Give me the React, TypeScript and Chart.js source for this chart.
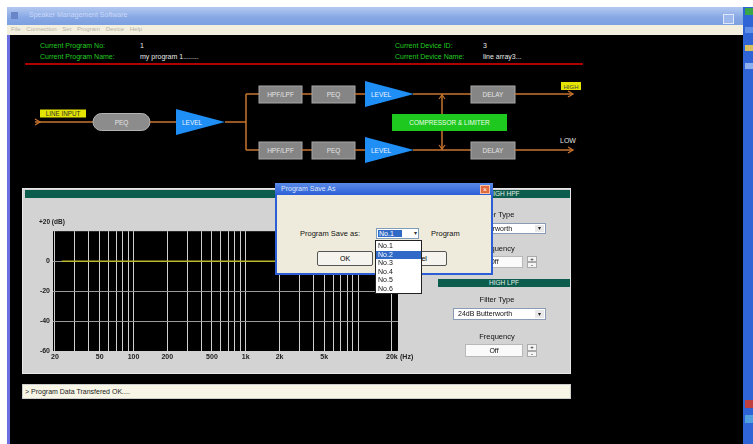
import React, { useEffect, useRef } from "react";
import { Chart, registerables } from "chart.js";
Chart.register(...registerables);

// ---- chart data ----
const FREQ_GRID = [20, 30, 40, 50, 60, 70, 80, 90, 100, 200, 300, 400, 500, 600, 700, 800, 900, 1000, 2000, 3000, 4000, 5000, 6000, 7000, 8000, 9000, 10000, 20000];
const FREQ_LABELS: Record<number, string> = { 20: "20", 50: "50", 100: "100", 200: "200", 500: "500", 1000: "1k", 2000: "2k", 5000: "5k", 20000: "20k" };
const DB_TICKS = [-60, -40, -20, 0, 20];
const DB_LABELS: Record<number, string> = { [-60]: "-60", [-40]: "-40", [-20]: "-20", 0: "0", 20: "" };
const RESPONSE_FREQ = [23, 100, 1000, 10000, 22700];
const RESPONSE_DB = [0, 0, 0, 0, 0];
const PROGRAM_SLOTS = ["No.1", "No.2", "No.3", "No.4", "No.5", "No.6"];

const FONT = "Arial, 'Liberation Sans', sans-serif";

function Txt(props: { x: number; y: number; c?: string; s?: number; b?: boolean; children: any; w?: number; center?: boolean }) {
  const { x, y, c = "#111", s = 7, b = false, w, center } = props;
  return (
    <div style={{ position: "absolute", left: x, top: y - s * 0.6, fontSize: s, lineHeight: `${s * 1.2}px`, color: c, fontWeight: b ? "bold" : "normal", whiteSpace: "nowrap", width: w, textAlign: center ? "center" : "left", fontFamily: FONT }}>
      {props.children}
    </div>
  );
}

function Box(props: { x: number; y: number; w: number; h: number; style?: any; children?: any }) {
  return <div style={{ position: "absolute", left: props.x, top: props.y, width: props.w, height: props.h, boxSizing: "border-box", ...props.style }}>{props.children}</div>;
}

function FreqChart() {
  const ref = useRef<HTMLCanvasElement | null>(null);
  useEffect(() => {
    if (!ref.current) return;
    const bg = {
      id: "plotbg",
      beforeDraw(chart: any) {
        const { ctx, chartArea: a } = chart;
        ctx.save();
        ctx.fillStyle = "#000";
        ctx.fillRect(a.left, a.top, a.right - a.left, a.bottom - a.top);
        ctx.restore();
      },
    };
    const chart = new Chart(ref.current, {
      type: "line",
      data: {
        datasets: [
          {
            data: RESPONSE_FREQ.map((f, i) => ({ x: f, y: RESPONSE_DB[i] })),
            borderColor: "#b9b92a",
            borderWidth: 1.5,
            pointRadius: 0,
            tension: 0,
          },
        ],
      },
      options: {
        animation: false,
        responsive: false,
        maintainAspectRatio: false,
        layout: { padding: { top: 4, right: 22, left: 0, bottom: 0 } },
        plugins: { legend: { display: false }, tooltip: { enabled: false } },
        scales: {
          x: {
            type: "logarithmic",
            min: 19.2,
            max: 22700,
            afterBuildTicks: (s: any) => {
              s.ticks = FREQ_GRID.map((v) => ({ value: v }));
            },
            afterFit: (s: any) => {
              s.height = 17;
            },
            ticks: {
              autoSkip: false,
              maxRotation: 0,
              minRotation: 0,
              padding: 2,
              color: "#222",
              font: { size: 7, weight: "bold", family: FONT },
              callback: (v: any) => FREQ_LABELS[Number(v)] ?? "",
            },
            grid: { color: "#cfcfcf", lineWidth: 1, drawTicks: false },
            border: { display: false },
          },
          y: {
            min: -60,
            max: 20,
            afterBuildTicks: (s: any) => {
              s.ticks = DB_TICKS.map((v) => ({ value: v }));
            },
            afterFit: (s: any) => {
              s.width = 23;
            },
            ticks: {
              padding: 3,
              color: "#222",
              font: { size: 7, weight: "bold", family: FONT },
              callback: (v: any) => DB_LABELS[Number(v)] ?? "",
            },
            grid: {
              color: (ctx: any) => (ctx.tick && (ctx.tick.value === 20 || ctx.tick.value === -60) ? "rgba(0,0,0,0)" : "#9a9a9a"),
              lineWidth: 1,
              drawTicks: false,
            },
            border: { display: false },
          },
        },
      } as any,
      plugins: [bg],
    });
    return () => chart.destroy();
  }, []);
  return <canvas ref={ref} width={390} height={144} style={{ position: "absolute", left: 30, top: 224, width: 390, height: 144 }} />;
}

const ORANGE = "#c8742e";

function Diagram() {
  const line = (x1: number, y1: number, x2: number, y2: number) => <line x1={x1} y1={y1} x2={x2} y2={y2} stroke={ORANGE} strokeWidth={1.5} />;
  const arrowR = (x: number, y: number) => <polyline points={`${x - 5},${y - 3} ${x},${y} ${x - 5},${y + 3}`} fill="none" stroke={ORANGE} strokeWidth={1.3} />;
  const box = (x: number, y: number, w: number, h: number, label: string) => (
    <g>
      <rect x={x} y={y} width={w} height={h} fill="#858585" stroke="#a8a8a8" strokeWidth={1} />
      <text x={x + w / 2} y={y + h / 2 + 2.3} textAnchor="middle" fontSize={6.5} fill="#e4e4e4" fontFamily={FONT}>{label}</text>
    </g>
  );
  const tri = (x: number, yc: number, label: string) => (
    <g>
      <polygon points={`${x},${yc - 13} ${x + 49},${yc} ${x},${yc + 13}`} fill="#1f8ef5" />
      <text x={x + 6} y={yc + 2.5} fontSize={6.5} fill="#e8f2ff" fontFamily={FONT}>{label}</text>
    </g>
  );
  return (
    <svg width={753} height={444} style={{ position: "absolute", left: 0, top: 0 }}>
      {/* input */}
      {line(35, 122, 93, 122)}
      {arrowR(40, 122)}
      <rect x={40} y={109.5} width={46} height={8} fill="#e4e400" />
      <text x={63} y={116} textAnchor="middle" fontSize={6.3} fill="#333" fontFamily={FONT}>LINE INPUT</text>
      <rect x={93} y={113.5} width={57} height={17} rx={8.5} fill="#8c8c8c" stroke="#b4b4b4" />
      <text x={121.5} y={124.5} textAnchor="middle" fontSize={6.5} fill="#e4e4e4" fontFamily={FONT}>PEQ</text>
      {line(150, 122, 176, 122)}
      {tri(176, 122, "LEVEL")}
      {line(225, 122, 246, 122)}
      {line(246, 94, 246, 150)}
      {/* top branch */}
      {line(246, 94, 259, 94)}
      {box(259, 86, 43, 17, "HPF/LPF")}
      {line(302, 94, 312, 94)}
      {box(312, 86, 43, 17, "PEQ")}
      {line(355, 94, 365, 94)}
      {tri(365, 94, "LEVEL")}
      {line(413, 94, 471, 94)}
      {box(471, 86, 44, 17, "DELAY")}
      {line(515, 94, 573, 94)}
      {arrowR(573, 94)}
      <rect x={561} y={82} width={20} height={8} fill="#e4e400" />
      <text x={571} y={88.5} textAnchor="middle" fontSize={6} fill="#444" fontFamily={FONT}>HIGH</text>
      {/* bottom branch */}
      {line(246, 150, 259, 150)}
      {box(259, 142, 43, 17, "HPF/LPF")}
      {line(302, 150, 312, 150)}
      {box(312, 142, 43, 17, "PEQ")}
      {line(355, 150, 365, 150)}
      {tri(365, 150, "LEVEL")}
      {line(413, 150, 471, 150)}
      {box(471, 142, 44, 17, "DELAY")}
      {line(515, 150, 573, 150)}
      {arrowR(573, 150)}
      <text x={560} y={143} fontSize={7} fill="#e0e0e0" fontFamily={FONT}>LOW</text>
      {/* compressor link */}
      {line(442, 94, 442, 150)}
      <polyline points={`439,99 442,95 445,99`} fill="none" stroke={ORANGE} strokeWidth={1.2} />
      <polyline points={`439,145 442,149 445,145`} fill="none" stroke={ORANGE} strokeWidth={1.2} />
      <rect x={392} y={114} width={115} height={17} fill="#1ec81e" />
      <text x={449.5} y={125} textAnchor="middle" fontSize={6.5} fill="#e8ffe8" fontFamily={FONT}>COMPRESSOR &amp; LIMITER</text>
    </svg>
  );
}

function Combo(props: { x: number; y: number; w: number; h: number; text: string }) {
  const { x, y, w, h, text } = props;
  return (
    <Box x={x} y={y} w={w} h={h} style={{ background: "#fff", border: "1px solid #8a9bb5" }}>
      <div style={{ position: "absolute", left: 4, top: 0, fontSize: 7, lineHeight: `${h - 2}px`, fontFamily: FONT, color: "#111" }}>{text}</div>
      <div style={{ position: "absolute", right: 1, top: 1, width: 9, height: h - 4, background: "#e8e8e8", fontSize: 6, lineHeight: `${h - 4}px`, textAlign: "center", color: "#222" }}>▾</div>
    </Box>
  );
}

function Spin(props: { x: number; y: number; w: number; h: number; text: string; bx: number }) {
  const { x, y, w, h, text, bx } = props;
  return (
    <>
      <Box x={x} y={y} w={w} h={h} style={{ background: "#fafafa", border: "1px solid #b8b8b8" }}>
        <div style={{ textAlign: "center", fontSize: 7, lineHeight: `${h - 2}px`, fontFamily: FONT, color: "#111" }}>{text}</div>
      </Box>
      <Box x={bx} y={y} w={10} h={h / 2} style={{ background: "#f4f4f4", border: "1px solid #aaa", fontSize: 6, lineHeight: `${h / 2 - 2}px`, textAlign: "center" }}>+</Box>
      <Box x={bx} y={y + h / 2} w={10} h={h / 2} style={{ background: "#f4f4f4", border: "1px solid #aaa", fontSize: 6, lineHeight: `${h / 2 - 2}px`, textAlign: "center" }}>-</Box>
    </>
  );
}

export default function App() {
  return (
    <div style={{ position: "fixed", left: 0, top: 0, width: 753, height: 444, background: "#fff", overflow: "hidden", fontFamily: FONT }}>
      {/* window chrome */}
      <Box x={7} y={7} w={736} h={18} style={{ background: "linear-gradient(#b4c9f0, #86a7e4 60%, #7c9fe0)" }}>
        <div style={{ position: "absolute", left: 4, top: 5, width: 7, height: 7, background: "#6b86c8" }} />
        <div style={{ position: "absolute", left: 22, top: 4, fontSize: 7, color: "#c8d8f8", fontFamily: FONT }}>Speaker Management Software</div>
        <div style={{ position: "absolute", left: 716, top: 7, width: 9, height: 8, background: "#9db8ec", border: "1px solid #dfe8fa" }} />
      </Box>
      <Box x={7} y={25} w={736} h={10} style={{ background: "#f3efdf" }}>
        <div style={{ position: "absolute", left: 4, top: 1, fontSize: 6, color: "#b8b4a8", fontFamily: FONT, wordSpacing: 4 }}>File Connection Set Program Device Help</div>
      </Box>
      <Box x={7} y={35} w={3} h={409} style={{ background: "#6b6fe0" }} />
      <Box x={10} y={35} w={733} h={409} style={{ background: "#000" }} />
      <Box x={743} y={7} w={10} h={437} style={{ background: "#2f64d6" }}>
        <div style={{ position: "absolute", left: 2, top: 1, width: 8, height: 7, background: "#3aa64a" }} />
        <div style={{ position: "absolute", left: 2, top: 20, width: 8, height: 6, background: "#5f8fe6" }} />
        <div style={{ position: "absolute", left: 2, top: 38, width: 8, height: 6, background: "#d8c060" }} />
        <div style={{ position: "absolute", left: 2, top: 56, width: 8, height: 6, background: "#8fb0ee" }} />
        <div style={{ position: "absolute", left: 2, top: 393, width: 8, height: 8, background: "#c04040" }} />
        <div style={{ position: "absolute", left: 2, top: 408, width: 8, height: 8, background: "#50a0e0" }} />
      </Box>

      {/* header info */}
      <Txt x={40} y={46} c="#22cc22">Current Program No:</Txt>
      <Txt x={140} y={46} c="#e8e8e8">1</Txt>
      <Txt x={40} y={57} c="#22cc22">Current Program Name:</Txt>
      <Txt x={140} y={57} c="#e8e8e8">my program 1........</Txt>
      <Txt x={395} y={46} c="#22cc22">Current Device ID:</Txt>
      <Txt x={483} y={46} c="#e8e8e8">3</Txt>
      <Txt x={395} y={57} c="#22cc22">Current Device Name:</Txt>
      <Txt x={483} y={57} c="#e8e8e8">line array3...</Txt>
      <Box x={25} y={63} w={558} h={2} style={{ background: "#b00000" }} />

      <Diagram />

      {/* main panel */}
      <Box x={22} y={188} w={549} h={186} style={{ background: "#d3d3d3", border: "1px solid #e8e8e8" }} />
      <Box x={25} y={190} w={545} h={8} style={{ background: "#0d5d4e" }} />
      <Box x={438} y={279} w={132} h={8} style={{ background: "#0d5d4e" }} />
      <Txt x={438} y={194} w={132} center c="#e0f0e8" s={6.5}>HIGH HPF</Txt>
      <Txt x={438} y={283} w={132} center c="#e0f0e8" s={6.5}>HIGH LPF</Txt>

      <FreqChart />
      <Txt x={39} y={222} c="#222" b s={6.5}>+20 (dB)</Txt>
      <Txt x={400} y={357} c="#222" b>(Hz)</Txt>

      {/* right controls */}
      <Txt x={447} y={214} w={100} center c="#111" s={7.5}>Filter Type</Txt>
      <Combo x={453} y={223} w={93} h={11} text="24dB Butterworth" />
      <Txt x={447} y={248} w={100} center c="#111" s={7.5}>Frequency</Txt>
      <Spin x={465} y={256} w={58} h={12} text="Off" bx={527} />
      <Txt x={447} y={299} w={100} center c="#111" s={7.5}>Filter Type</Txt>
      <Combo x={453} y={308} w={93} h={12} text="24dB Butterworth" />
      <Txt x={447} y={336} w={100} center c="#111" s={7.5}>Frequency</Txt>
      <Spin x={465} y={344} w={58} h={13} text="Off" bx={527} />

      {/* status bar */}
      <Box x={22} y={384} w={549} h={15} style={{ background: "#f7f6e6", border: "1px solid #ccc" }} />
      <Txt x={25} y={392} c="#222">&gt; Program Data Transfered OK....</Txt>

      {/* dialog */}
      <Box x={275} y={183} w={218} h={92} style={{ background: "#2c5fd6", padding: 2 }}>
        <div style={{ position: "absolute", left: 0, top: 0, width: 218, height: 12, background: "linear-gradient(#5a8ae8, #2c5fd6)" }} />
        <div style={{ position: "absolute", left: 6, top: 2, fontSize: 7, color: "#dce6fb", fontFamily: FONT }}>Program Save As</div>
        <div style={{ position: "absolute", left: 205, top: 2, width: 10, height: 9, background: "#e06a3c", border: "1px solid #f4c0a8", boxSizing: "border-box", fontSize: 7, lineHeight: "7px", color: "#fff", textAlign: "center" }}>×</div>
        <div style={{ position: "absolute", left: 2, top: 12, width: 214, height: 78, background: "#efebdc" }} />
      </Box>
      <Txt x={300} y={233} c="#111" s={7.5}>Program Save as:</Txt>
      <Txt x={431} y={233} c="#111" s={7.5}>Program</Txt>
      <Box x={317} y={251} w={56} h={15} style={{ background: "#f5f4ee", border: "1px solid #555", borderRadius: 2 }}>
        <div style={{ textAlign: "center", fontSize: 7, lineHeight: "13px", fontFamily: FONT }}>OK</div>
      </Box>
      <Box x={385} y={251} w={62} h={15} style={{ background: "#f5f4ee", border: "1px solid #555", borderRadius: 2 }}>
        <div style={{ textAlign: "center", fontSize: 7, lineHeight: "13px", fontFamily: FONT }}>Cancel</div>
      </Box>
      <Box x={376} y={228} w={43} h={11} style={{ background: "#fff", border: "1px solid #7f9db9" }}>
        <div style={{ position: "absolute", left: 1, top: 1, width: 24, height: 7, background: "#3169c6" }} />
        <div style={{ position: "absolute", left: 2, top: 0, fontSize: 7, lineHeight: "9px", color: "#fff", fontFamily: FONT }}>No.1</div>
        <div style={{ position: "absolute", right: 1, top: 0, fontSize: 6, lineHeight: "9px", color: "#333" }}>▾</div>
      </Box>
      <Box x={375} y={240} w={47} h={54} style={{ background: "#fff", border: "1px solid #222" }}>
        {PROGRAM_SLOTS.map((s, i) => (
          <div key={s} style={{ position: "absolute", left: 0, top: 1 + i * 8.6, width: 45, height: 8.6, background: i === 1 ? "#3169c6" : "transparent", color: i === 1 ? "#fff" : "#111", fontSize: 7, lineHeight: "8.6px", paddingLeft: 2, fontFamily: FONT, boxSizing: "border-box" }}>{s}</div>
        ))}
      </Box>
    </div>
  );
}
